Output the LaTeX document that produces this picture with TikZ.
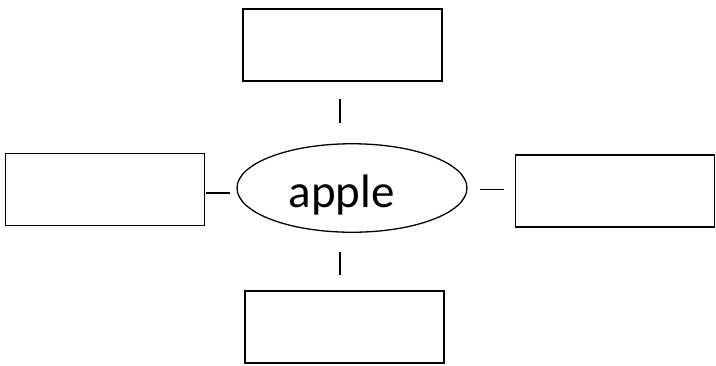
\documentclass[tikz,border=0pt]{standalone}
\usepackage{fontspec}
\setmainfont{Carlito}
\usetikzlibrary{shapes.geometric}
\begin{document}
\begin{tikzpicture}[x=1pt,y=-1pt,
  emptybox/.style={draw, line width=1.8pt, rectangle, inner sep=0pt, minimum width=199pt, minimum height=72pt},
  tick/.style={line width=1.5pt}]
\useasboundingbox (0,0) rectangle (716,365);
\node[emptybox] (top) at (342.5,45) {};
\node[emptybox] (left) at (105,189.5) {};
\node[emptybox] (right) at (615,191) {};
\node[emptybox] (bottom) at (344.5,327) {};
\node[draw, ellipse, line width=1.3pt, inner sep=0pt, minimum width=230pt, minimum height=88.5pt] (center) at (352,188) {};
\node[anchor=base, inner sep=0pt, font=\fontsize{47}{54}\selectfont] (label) at (341.8,207.3) {apple};
\coordinate (t1) at (340,98.5); \coordinate (t2) at (340,123);
\coordinate (b1) at (340,251.5); \coordinate (b2) at (340,275);
\coordinate (l1) at (205.5,193); \coordinate (l2) at (230,193);
\coordinate (r1) at (480,189.5); \coordinate (r2) at (504,189.5);
\draw[tick] (t1) -- (t2);
\draw[tick] (b1) -- (b2);
\draw[tick] (l1) -- (l2);
\draw[tick] (r1) -- (r2);
\end{tikzpicture}
\end{document}
